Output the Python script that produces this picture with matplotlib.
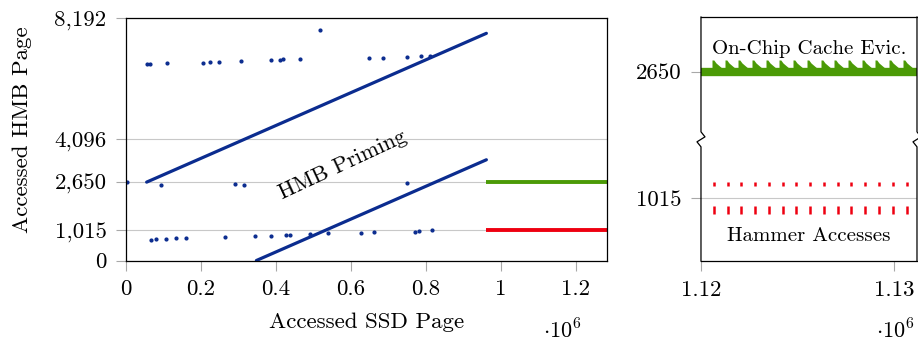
"""HMB priming vs. SSD page accesses, with a zoomed view of the hammer phase."""
import matplotlib.pyplot as plt
from matplotlib.ticker import FixedLocator, FuncFormatter

plt.rcParams["font.family"] = ["cmr10", "DejaVu Serif"]
plt.rcParams["mathtext.fontset"] = "cm"
plt.rcParams["axes.formatter.use_mathtext"] = True

BLUE = "#0b2c8f"
GREEN = "#4b9a06"
RED = "#ee0010"
GRID = "#c8c8c8"
TICK = "#a8a8a8"

# --- overview panel: accessed SSD page -> accessed HMB page ---
prime_hi_x = [55_000, 962_000]
prime_hi_y = [2650, 7680]
prime_lo_x = [348_000, 962_000]
prime_lo_y = [0, 3405]

stray_x = [
    55_000, 64_000, 109_000, 206_000, 224_000, 249_000, 306_000, 387_000,
    411_000, 419_000, 465_000, 518_000, 649_000, 685_000, 750_000, 787_000,
    811_000,
    2_000, 93_000, 291_000, 316_000, 750_000,
    67_000, 80_000, 108_000, 133_000, 160_000, 265_000, 343_000, 388_000,
    426_000, 439_000, 491_000, 539_000, 628_000, 661_000, 771_000, 783_000,
    818_000,
]
stray_y = [
    6632, 6642, 6665, 6686, 6700, 6720, 6743, 6767,
    6777, 6800, 6820, 7788, 6844, 6855, 6879, 6902,
    6922,
    2653, 2540, 2596, 2562, 2620,
    708, 719, 742, 764, 775, 798, 820, 843,
    854, 877, 899, 921, 933, 955, 978, 989,
    1023,
]

evict_x = [962_000, 1_283_000]
evict_y = [2650, 2650]
hammer_x = [962_000, 1_283_000]
hammer_y = [1015, 1015]

main_yticks = [0, 1015, 2650, 4096, 8192]
main_xticks = [0, 200_000, 400_000, 600_000, 800_000, 1_000_000, 1_200_000]

# --- zoomed panel ---
zoom_band_x = [1_120_000, 1_131_190]
zoom_band_y = [2650, 2650]
evic_pulse_x = [
    1_120_554, 1_121_243, 1_121_933, 1_122_627, 1_123_352, 1_124_057,
    1_124_782, 1_125_476, 1_126_202, 1_126_906, 1_127_600, 1_128_326,
    1_129_031, 1_129_741, 1_130_450,
]
hammer_pulse_x = [
    1_120_658, 1_121_383, 1_122_088, 1_122_798, 1_123_523, 1_124_233,
    1_124_938, 1_125_647, 1_126_373, 1_127_083, 1_127_787, 1_128_497,
    1_129_222, 1_129_932, 1_130_657,
]
hammer_hi_y = [1204] * len(hammer_pulse_x)
hammer_lo_y = [864] * len(hammer_pulse_x)
evic_pulse_y = [2650] * len(evic_pulse_x)

zoom_yticks = [1015, 2650]
zoom_xticks = [1_120_000, 1_130_000]

# sawtooth shape of one eviction burst (marker, origin on the band centre)
TOOTH = [(0, 0), (0, 12), (1.8, 12), (4, 9), (11, 3), (11, 0), (0, 0)]


def style_axis(ax):
    ax.tick_params(axis="both", which="both", direction="out", length=7,
                   width=0.8, color=TICK, labelsize=16.5, pad=7,
                   top=False, right=False)
    for s in ax.spines.values():
        s.set_linewidth(0.9)
    ax.set_axisbelow(True)


fig = plt.figure(figsize=(9.18, 3.43), dpi=100)

# Overview
ax = fig.add_axes([0.1373, 0.2405, 0.5235, 0.7065])
ax.plot(prime_hi_x, prime_hi_y, color=BLUE, lw=2.3, solid_capstyle="round")
ax.plot(prime_lo_x, prime_lo_y, color=BLUE, lw=2.3, solid_capstyle="round")
ax.plot(stray_x, stray_y, ls="none", marker="o", ms=2.0, color=BLUE)
ax.plot(evict_x, evict_y, color=GREEN, lw=2.8, solid_capstyle="butt")
ax.plot(hammer_x, hammer_y, color=RED, lw=2.8, solid_capstyle="butt")
ax.set_xlim(0, 1_283_000)
ax.set_ylim(0, 8192)
ax.yaxis.set_major_locator(FixedLocator(main_yticks))
ax.xaxis.set_major_locator(FixedLocator(main_xticks))
ax.yaxis.set_major_formatter(FuncFormatter(lambda v, _: f"{int(v):,}"))
ax.xaxis.set_major_formatter(FuncFormatter(lambda v, _: f"{v / 1e6:g}"))
ax.grid(axis="y", color=GRID, lw=0.8)
style_axis(ax)
ax.set_xlabel("Accessed SSD Page", fontsize=16.5)
ax.set_ylabel("Accessed HMB Page", fontsize=16.5)
ax.xaxis.set_label_coords(0.5, -0.215)
ax.yaxis.set_label_coords(-0.195, 0.54)
ax.text(577_000, 3240, "HMB Priming", fontsize=16, rotation=25,
        rotation_mode="anchor", ha="center", va="center")

# Zoom on the hammering phase
az = fig.add_axes([0.7636, 0.239, 0.2353, 0.7113])
az.plot(zoom_band_x, zoom_band_y, color=GREEN, lw=6.0, solid_capstyle="butt")
az.plot(evic_pulse_x, evic_pulse_y, ls="none", marker=TOOTH, ms=17.3,
        color=GREEN, mew=0)
az.plot(hammer_pulse_x, hammer_hi_y, ls="none", marker="|", ms=3.2,
        mew=1.8, color=RED)
az.plot(hammer_pulse_x, hammer_lo_y, ls="none", marker="|", ms=6.0,
        mew=1.8, color=RED)
az.set_xlim(zoom_band_x[0], zoom_band_x[1])
az.set_ylim(205, 3356)
az.yaxis.set_major_locator(FixedLocator(zoom_yticks))
az.xaxis.set_major_locator(FixedLocator(zoom_xticks))
az.yaxis.set_major_formatter(FuncFormatter(lambda v, _: f"{int(v)}"))
az.xaxis.set_major_formatter(FuncFormatter(lambda v, _: f"{v / 1e6:.2f}"))
az.grid(axis="y", color=GRID, lw=0.8)
style_axis(az)
az.text(0.5, 0.868, "On-Chip Cache Evic.", transform=az.transAxes,
        fontsize=15, ha="center", va="center")
az.text(0.5, 0.104, "Hammer Accesses", transform=az.transAxes,
        fontsize=15, ha="center", va="center")

# broken y axis: redraw the vertical spines with a zig-zag
az.spines["left"].set_visible(False)
az.spines["right"].set_visible(False)
bx, by = 4 / 216, 5 / 244
y0 = 0.468
for xs in (0.0, 1.0):
    az.plot([xs, xs, xs - bx, xs + bx, xs, xs],
            [0, y0, y0 + by, y0 + 2 * by, y0 + 3 * by, 1],
            transform=az.transAxes, color="black", lw=0.9, clip_on=False)

fig.text(0.612, 0.035, r"$\cdot 10^{6}$", fontsize=16, ha="center", va="center")
fig.text(0.975, 0.035, r"$\cdot 10^{6}$", fontsize=16, ha="center", va="center")

fig.savefig("out.png", dpi=100)
